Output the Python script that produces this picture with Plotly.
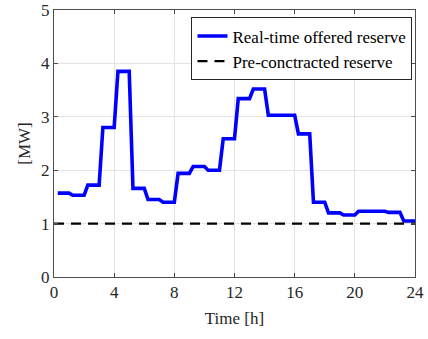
import plotly.graph_objects as go

# Real-time offered reserve, 15-minute resolution (MW), one row per hour
quarter_times = [0.25 * (k + 1) for k in range(96)]
offered_reserve = [
    1.57, 1.57, 1.57, 1.57,
    1.53, 1.53, 1.53, 1.53,
    1.72, 1.72, 1.72, 1.72,
    2.80, 2.80, 2.80, 2.80,
    3.85, 3.85, 3.85, 3.85,
    1.66, 1.66, 1.66, 1.66,
    1.45, 1.45, 1.45, 1.45,
    1.40, 1.40, 1.40, 1.40,
    1.94, 1.94, 1.94, 1.94,
    2.07, 2.07, 2.07, 2.07,
    2.00, 2.00, 2.00, 2.00,
    2.59, 2.59, 2.59, 2.59,
    3.34, 3.34, 3.34, 3.34,
    3.52, 3.52, 3.52, 3.52,
    3.03, 3.03, 3.03, 3.03,
    3.03, 3.03, 3.03, 3.03,
    2.68, 2.68, 2.68, 2.68,
    1.40, 1.40, 1.40, 1.40,
    1.20, 1.20, 1.20, 1.20,
    1.16, 1.16, 1.16, 1.16,
    1.23, 1.23, 1.23, 1.23,
    1.23, 1.23, 1.23, 1.23,
    1.21, 1.21, 1.21, 1.21,
    1.05, 1.05, 1.05, 1.05,
]

# Pre-contracted reserve level (MW)
contract_times = [0, 24]
contracted_reserve = [1.0, 1.0]

x_ticks = [0, 4, 8, 12, 16, 20, 24]
y_ticks = [0, 1, 2, 3, 4, 5]

FONT = "Times New Roman"
AXIS_COLOR = "#4d4d4d"

fig = go.Figure()
fig.add_trace(go.Scatter(
    x=quarter_times, y=offered_reserve, mode="lines",
    name="Real-time offered reserve",
    line=dict(color="#0000ff", width=3.6),
))
fig.add_trace(go.Scatter(
    x=contract_times, y=contracted_reserve, mode="lines",
    name="Pre-conctracted reserve",
    line=dict(color="#000000", width=2.2, dash="10px,7px"),
))

axis_common = dict(
    showline=True, linecolor=AXIS_COLOR, linewidth=1, mirror="ticks",
    ticks="inside", ticklen=4, tickcolor=AXIS_COLOR,
    showgrid=True, gridcolor="#e3e3e3", gridwidth=1,
    zeroline=False, automargin=False,
    tickfont=dict(family=FONT, size=17, color="#262626"),
)

fig.update_layout(
    width=428, height=339,
    margin=dict(l=54, r=13, t=10, b=62),
    paper_bgcolor="white", plot_bgcolor="white",
    font=dict(family=FONT, color="#262626"),
    showlegend=True,
    legend=dict(
        x=0.993, y=0.972, xanchor="right", yanchor="top",
        bgcolor="white", bordercolor="#262626", borderwidth=1,
        font=dict(family=FONT, size=17, color="#000000"),
        tracegroupgap=0, itemwidth=30,
    ),
    xaxis=dict(
        range=[0, 24], tickvals=x_ticks,
        title=dict(text="Time [h]", font=dict(family=FONT, size=17), standoff=10),
        **axis_common,
    ),
    yaxis=dict(
        range=[0, 5], tickvals=y_ticks,
        title=dict(text="[MW]", font=dict(family=FONT, size=17), standoff=6),
        **axis_common,
    ),
)

fig.write_html("out.html")
